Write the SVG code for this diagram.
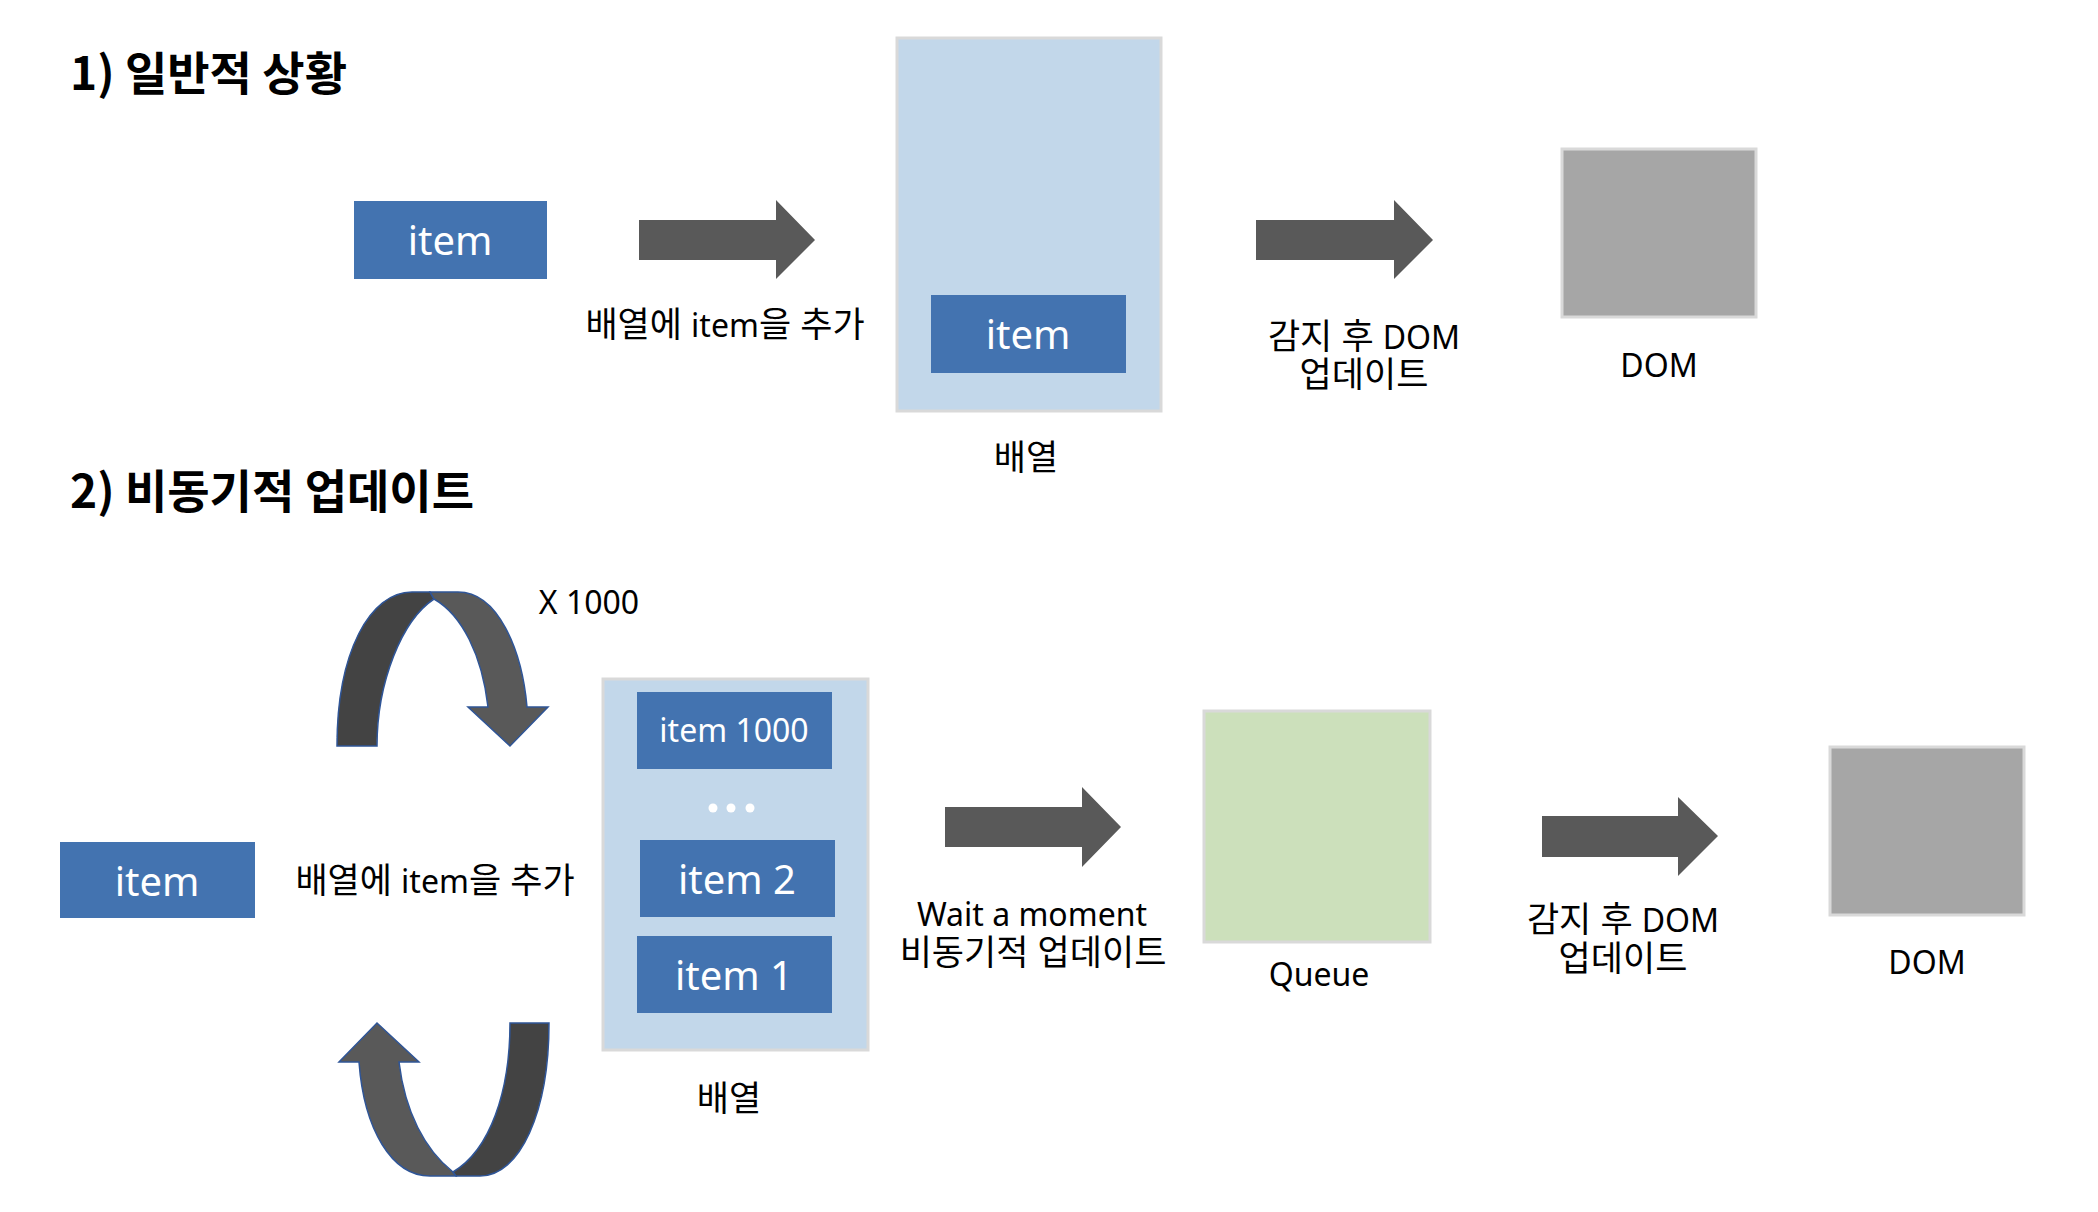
<svg xmlns="http://www.w3.org/2000/svg" width="2098" height="1212" viewBox="0 0 2098 1212">
<style>
.title{font-family:"Noto Sans CJK KR","Noto Sans",sans-serif;font-weight:bold;font-size:46px;fill:#000}
.lbl{font-family:"Noto Sans","Noto Sans CJK KR",sans-serif;font-size:35px;fill:#000;text-anchor:middle}
.lat{font-size:32px}
.itxt{font-family:"Noto Sans","Noto Sans CJK KR",sans-serif;font-size:40px;fill:#fff;text-anchor:middle}
.item{fill:#4373B0}
.arr{fill:#C2D7EA;stroke:#D9D9D9;stroke-width:3}
.dom{fill:#A6A6A6;stroke:#D9D9D9;stroke-width:3}
.queue{fill:#CCE0BB;stroke:#D9D9D9;stroke-width:3}
.blk{fill:#595959}
.cdark{fill:#434343;stroke:#2F5597;stroke-width:1.5}
.clight{fill:#595959;stroke:#2F5597;stroke-width:1.5}
</style>
<rect width="2098" height="1212" fill="#fff"/>
<text class="title" x="70" y="90">1) 일반적 상황</text>
<text class="title" x="70" y="508">2) 비동기적 업데이트</text>

<g id="item-top">
<rect class="item" x="354" y="201" width="193" height="78"/>
<text class="itxt" x="450" y="255">item</text>
</g>
<g id="array-top">
<rect class="arr" x="897" y="38" width="264" height="373"/>
<rect class="item" x="931" y="295" width="195" height="78"/>
<text class="itxt" x="1028" y="349">item</text>
<text class="lbl" x="1026" y="470">배열</text>
</g>
<g id="dom-top">
<rect class="dom" x="1562" y="149" width="194" height="168"/>
<text class="lbl lat" x="1659" y="377">DOM</text>
</g>

<g id="item-bottom">
<rect class="item" x="60" y="842" width="195" height="76"/>
<text class="itxt" x="157" y="896">item</text>
</g>
<g id="array-bottom">
<rect class="arr" x="603" y="679" width="265" height="371"/>
<rect class="item" x="637" y="692" width="195" height="77"/>
<text class="itxt" x="734" y="742" style="font-size:32px">item 1000</text>
<circle cx="713" cy="808" r="4.5" fill="#fff"/>
<circle cx="731" cy="808" r="4.5" fill="#fff"/>
<circle cx="750" cy="808" r="4.5" fill="#fff"/>
<rect class="item" x="640" y="840" width="195" height="77"/>
<text class="itxt" x="737" y="894">item 2</text>
<rect class="item" x="637" y="936" width="195" height="77"/>
<text class="itxt" x="734" y="990">item 1</text>
<text class="lbl" x="729" y="1111">배열</text>
</g>
<g id="queue">
<rect class="queue" x="1204" y="711" width="226" height="231"/>
<text class="lbl lat" x="1319" y="986">Queue</text>
</g>
<g id="dom-bottom">
<rect class="dom" x="1830" y="747" width="194" height="168"/>
<text class="lbl lat" x="1927" y="974">DOM</text>
</g>

<g id="connectors">
<polygon class="blk" points="639,220 776,220 776,200 815,240 776,279 776,260 639,260"/>
<text class="lbl" x="725" y="337">배열에 <tspan class="lat">item</tspan>을 추가</text>
<polygon class="blk" points="1256,220 1394,220 1394,200 1433,240 1394,279 1394,260 1256,260"/>
<text class="lbl" x="1364" y="349">감지 후 <tspan class="lat">DOM</tspan></text>
<text class="lbl" x="1364" y="387">업데이트</text>

<path class="cdark" d="M337,746 C337,652 370,592 412,592 L430,592 L434,599 C402,620 377,682 377,746 Z"/>
<path class="clight" d="M430,592 L458,592 C498,592 522,650 527,707 L548,707 L510,746 L468,707 L488,707 C482,655 462,615 434,599 Z"/>
<text class="lbl lat" x="589" y="614">X 1000</text>
<path class="clight" d="M453,1172 L456,1176 L430,1176 C392,1176 364,1130 359,1062 L339,1062 L377,1023 L419,1062 L399,1062 C405,1112 425,1150 453,1172 Z"/>
<path class="cdark" d="M510,1023 L549,1023 C549,1112 520,1176 480,1176 L456,1176 L453,1172 C490,1150 510,1092 510,1023 Z"/>
<text class="lbl" x="435" y="893">배열에 <tspan class="lat">item</tspan>을 추가</text>

<polygon class="blk" points="945,807 1082,807 1082,787 1121,827 1082,867 1082,847 945,847"/>
<text class="lbl lat" x="1032" y="926">Wait a moment</text>
<text class="lbl" x="1033" y="965">비동기적 업데이트</text>
<polygon class="blk" points="1542,816 1678,816 1678,797 1718,836 1678,876 1678,857 1542,857"/>
<text class="lbl" x="1623" y="932">감지 후 <tspan class="lat">DOM</tspan></text>
<text class="lbl" x="1623" y="971">업데이트</text>
</g>
</svg>
